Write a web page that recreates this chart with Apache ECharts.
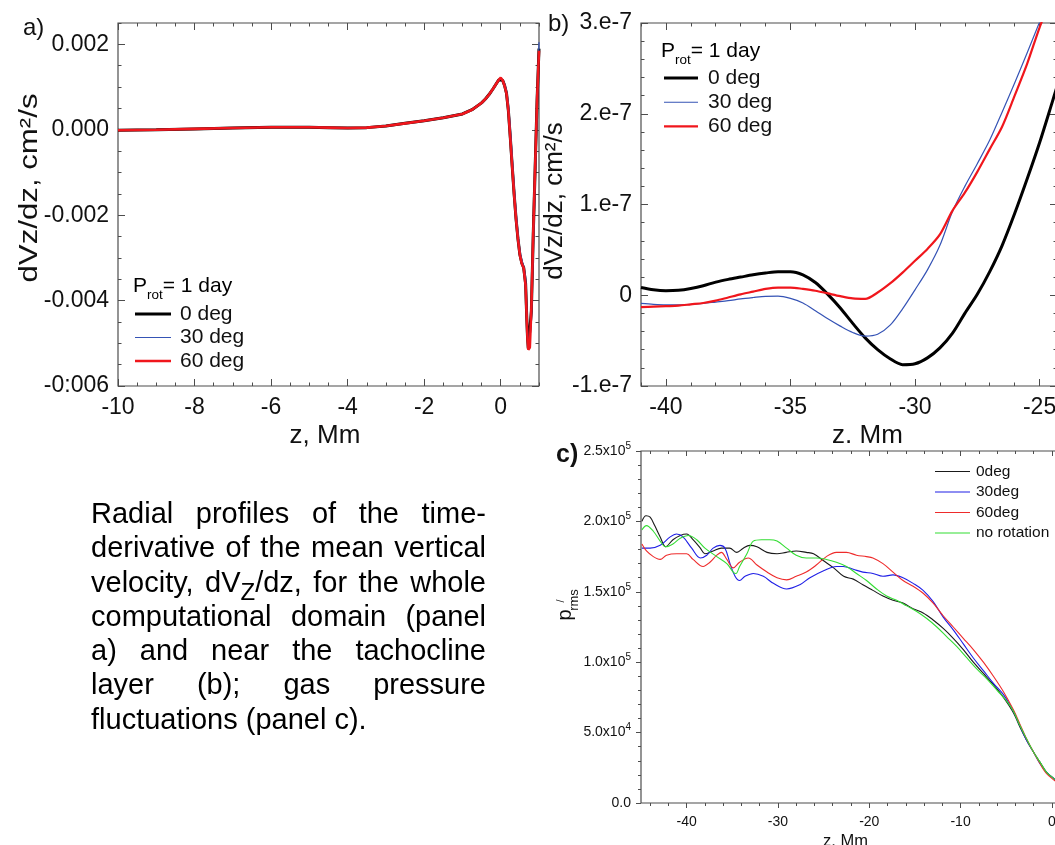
<!DOCTYPE html>
<html>
<head>
<meta charset="utf-8">
<script src="https://cdn.jsdelivr.net/npm/echarts@6/dist/echarts.min.js"></script>
<style>
  html, body { margin: 0; padding: 0; background: #fff; }
  #chart { width: 1055px; height: 845px; }
</style>
</head>
<body>
<div id="chart"></div>
<script>
// ---------- Panel a: dVz/dz over the whole computational domain ----------
const zA = [-10, -9, -8, -7, -6, -5, -4.5, -4, -3.5, -3, -2.5, -2, -1.5, -1, -0.75, -0.5, -0.4, -0.3, -0.2, -0.1, -0.05,
  0, 0.05, 0.1, 0.15, 0.2, 0.25, 0.3, 0.35, 0.4, 0.45, 0.5, 0.55, 0.6, 0.62, 0.65, 0.68, 0.7, 0.72, 0.74, 0.76, 0.8, 0.85, 0.9, 0.95, 1.0];
const dvA0 = [-0.01e-3, 0.0, 0.02e-3, 0.04e-3, 0.06e-3, 0.06e-3, 0.05e-3, 0.04e-3, 0.05e-3, 0.09e-3, 0.15e-3, 0.21e-3, 0.28e-3, 0.37e-3, 0.47e-3, 0.63e-3, 0.72e-3, 0.83e-3, 0.96e-3, 1.10e-3, 1.17e-3,
  1.21e-3, 1.16e-3, 1.04e-3, 0.86e-3, 0.45e-3, -0.18e-3, -0.85e-3, -1.50e-3, -2.08e-3, -2.55e-3, -2.92e-3, -3.12e-3, -3.23e-3, -3.26e-3, -3.60e-3, -4.40e-3, -4.85e-3, -5.12e-3, -5.15e-3, -5.10e-3, -4.25e-3, -2.45e-3, -0.88e-3, 0.69e-3, 1.90e-3];
const dvA30 = [-0.01e-3, 0.0, 0.02e-3, 0.04e-3, 0.06e-3, 0.06e-3, 0.05e-3, 0.04e-3, 0.05e-3, 0.09e-3, 0.15e-3, 0.21e-3, 0.28e-3, 0.37e-3, 0.47e-3, 0.62e-3, 0.71e-3, 0.82e-3, 0.95e-3, 1.09e-3, 1.16e-3,
  1.21e-3, 1.18e-3, 1.08e-3, 0.92e-3, 0.60e-3, 0.05e-3, -0.62e-3, -1.30e-3, -1.90e-3, -2.40e-3, -2.82e-3, -3.05e-3, -3.20e-3, -3.24e-3, -3.45e-3, -4.20e-3, -4.70e-3, -5.00e-3, -5.12e-3, -5.12e-3, -4.50e-3, -2.80e-3, -1.20e-3, 0.40e-3, 2.05e-3];
const dvA60 = [-0.01e-3, 0.0, 0.02e-3, 0.04e-3, 0.06e-3, 0.06e-3, 0.05e-3, 0.04e-3, 0.05e-3, 0.09e-3, 0.15e-3, 0.21e-3, 0.28e-3, 0.37e-3, 0.47e-3, 0.63e-3, 0.72e-3, 0.83e-3, 0.96e-3, 1.10e-3, 1.17e-3,
  1.22e-3, 1.16e-3, 1.03e-3, 0.85e-3, 0.44e-3, -0.20e-3, -0.87e-3, -1.52e-3, -2.10e-3, -2.56e-3, -2.93e-3, -3.13e-3, -3.24e-3, -3.27e-3, -3.65e-3, -4.45e-3, -4.90e-3, -5.15e-3, -5.18e-3, -5.10e-3, -4.20e-3, -2.40e-3, -0.85e-3, 0.72e-3, 1.85e-3];
const aTicksX = [-10, -8, -6, -4, -2, 0];
const aLabelsX = ['-10', '-8', '-6', '-4', '-2', '0'];
const aTicksY = [-0.006, -0.004, -0.002, 0, 0.002];
const aLabelsY = ['-0:006', '-0.004', '-0.002', '0.000', '0.002'];

// ---------- Panel b: dVz/dz near the tachocline ----------
const zB = [-41, -40.5, -40, -39.5, -39, -38.5, -38, -37.5, -37, -36.5, -36, -35.5, -35, -34.5, -34, -33.5, -33, -32.5,
  -32, -31.5, -31, -30.5, -30, -29.5, -29, -28.5, -28, -27.5, -27, -26.5, -26, -25.5, -25, -24.5, -24.3];
const dvB0 = [0.085e-7, 0.06e-7, 0.05e-7, 0.055e-7, 0.075e-7, 0.105e-7, 0.145e-7, 0.175e-7, 0.20e-7, 0.225e-7, 0.245e-7, 0.26e-7, 0.26e-7, 0.225e-7, 0.14e-7, 0.01e-7, -0.14e-7, -0.31e-7,
  -0.47e-7, -0.60e-7, -0.70e-7, -0.765e-7, -0.755e-7, -0.69e-7, -0.58e-7, -0.42e-7, -0.20e-7, 0.01e-7, 0.26e-7, 0.55e-7, 0.90e-7, 1.28e-7, 1.68e-7, 2.12e-7, 2.30e-7];
const dvB30 = [-0.09e-7, -0.10e-7, -0.105e-7, -0.105e-7, -0.10e-7, -0.09e-7, -0.075e-7, -0.06e-7, -0.04e-7, -0.025e-7, -0.012e-7, -0.01e-7, -0.035e-7, -0.085e-7, -0.17e-7, -0.26e-7, -0.34e-7, -0.41e-7,
  -0.45e-7, -0.43e-7, -0.33e-7, -0.15e-7, 0.06e-7, 0.28e-7, 0.55e-7, 0.92e-7, 1.20e-7, 1.45e-7, 1.71e-7, 2.02e-7, 2.34e-7, 2.67e-7, 3.01e-7, 3.35e-7, 3.48e-7];
const dvB60 = [-0.13e-7, -0.125e-7, -0.12e-7, -0.115e-7, -0.10e-7, -0.085e-7, -0.06e-7, -0.025e-7, 0.01e-7, 0.04e-7, 0.07e-7, 0.085e-7, 0.085e-7, 0.07e-7, 0.05e-7, 0.02e-7, -0.01e-7, -0.035e-7,
  -0.04e-7, 0.03e-7, 0.13e-7, 0.25e-7, 0.38e-7, 0.51e-7, 0.67e-7, 0.93e-7, 1.13e-7, 1.36e-7, 1.61e-7, 1.86e-7, 2.20e-7, 2.55e-7, 2.95e-7, 3.30e-7, 3.45e-7];
const bTicksX = [-40, -35, -30, -25];
const bLabelsX = ['-40', '-35', '-30', '-25'];
const bTicksY = [-1e-7, 0, 1e-7, 2e-7, 3e-7];
const bLabelsY = ['-1.e-7', '0', '1.e-7', '2.e-7', '3.e-7'];

// ---------- Panel c: rms gas pressure fluctuations ----------
const zC0 = [-44.9, -44.45, -44.0, -43.5, -42.9, -42.3, -41.5, -40.7, -40.0, -39.3, -38.5, -38.0, -37.1, -36.2, -35.3, -34.5, -33.8, -33.1, -32.3, -31.2, -30.1, -29.1, -28.0, -26.9, -26.1, -25.0,
  -23.9, -22.8, -21.75, -20.7, -19.6, -18.5, -17.4, -16.3, -15.2, -14.1, -13.0, -11.9, -10.8, -9.7, -8.6, -7.5, -6.4, -5.3, -4.2, -3.5, -2.8, -2.0, -1.3, -0.6, 0.3, 1.0];
const prmsC0 = [2.00e5, 2.04e5, 2.03e5, 1.97e5, 1.89e5, 1.82e5, 1.87e5, 1.90e5, 1.91e5, 1.87e5, 1.81e5, 1.77e5, 1.79e5, 1.81e5, 1.81e5, 1.78e5, 1.81e5, 1.83e5, 1.82e5, 1.78e5, 1.77e5, 1.78e5, 1.79e5, 1.78e5, 1.77e5, 1.72e5,
  1.67e5, 1.61e5, 1.59e5, 1.55e5, 1.51e5, 1.47e5, 1.44e5, 1.42e5, 1.38e5, 1.35e5, 1.30e5, 1.24e5, 1.17e5, 1.09e5, 1.00e5, 0.92e5, 0.84e5, 0.75e5, 0.64e5, 0.54e5, 0.45e5, 0.36e5, 0.29e5, 0.22e5, 0.17e5, 0.14e5];
const zC30 = [-44.9, -44.0, -42.9, -41.8, -41.1, -40.4, -39.45, -38.5, -37.8, -37.1, -36.35, -35.8, -35.25, -34.7, -34.2, -33.6, -32.7, -31.6, -30.5, -29.05, -27.6, -26.5, -25.0, -23.6, -22.85,
  -21.75, -20.7, -19.6, -18.5, -17.4, -16.3, -15.2, -14.1, -13.0, -11.9, -10.8, -9.7, -8.6, -7.5, -6.4, -5.3, -4.2, -3.5, -2.8, -2.0, -1.3, -0.6, 0.3, 1.0];
const prmsC30 = [1.81e5, 1.81e5, 1.83e5, 1.89e5, 1.91e5, 1.89e5, 1.81e5, 1.74e5, 1.76e5, 1.81e5, 1.83e5, 1.81e5, 1.70e5, 1.61e5, 1.58e5, 1.61e5, 1.63e5, 1.61e5, 1.56e5, 1.52e5, 1.55e5, 1.60e5, 1.65e5, 1.68e5, 1.68e5,
  1.66e5, 1.64e5, 1.63e5, 1.61e5, 1.62e5, 1.60e5, 1.56e5, 1.51e5, 1.43e5, 1.32e5, 1.23e5, 1.13e5, 1.03e5, 0.94e5, 0.85e5, 0.77e5, 0.65e5, 0.55e5, 0.45e5, 0.36e5, 0.28e5, 0.22e5, 0.17e5, 0.14e5];
const zC60 = [-44.9, -44.4, -43.65, -42.9, -42.2, -41.1, -40.0, -39.3, -38.2, -37.45, -36.7, -36.2, -35.6, -34.9, -34.2, -33.25, -32.3, -31.2, -30.1, -29.05, -28.0, -26.9, -25.8, -24.7, -23.6,
  -22.5, -21.4, -20.3, -19.6, -18.5, -17.4, -16.3, -15.2, -14.1, -13.0, -11.9, -10.8, -9.7, -8.6, -7.5, -6.4, -5.3, -4.2, -3.5, -2.8, -2.0, -1.3, -0.6, 0.3, 1.0];
const prmsC60 = [1.84e5, 1.79e5, 1.75e5, 1.73e5, 1.76e5, 1.77e5, 1.77e5, 1.73e5, 1.68e5, 1.71e5, 1.76e5, 1.78e5, 1.73e5, 1.67e5, 1.71e5, 1.74e5, 1.69e5, 1.64e5, 1.60e5, 1.585e5, 1.61e5, 1.64e5, 1.69e5, 1.75e5, 1.78e5,
  1.78e5, 1.76e5, 1.75e5, 1.74e5, 1.70e5, 1.64e5, 1.58e5, 1.54e5, 1.49e5, 1.42e5, 1.33e5, 1.25e5, 1.17e5, 1.09e5, 1.00e5, 0.90e5, 0.79e5, 0.66e5, 0.56e5, 0.46e5, 0.36e5, 0.28e5, 0.21e5, 0.16e5, 0.13e5];
const zCNo = [-44.9, -44.4, -43.65, -42.9, -42.3, -41.5, -40.7, -39.8, -38.9, -38.0, -36.7, -35.6, -34.9, -34.6, -34.2, -33.4, -32.7, -31.8, -30.9, -30.1, -29.05, -28.0, -26.9, -25.8, -24.7,
  -23.6, -22.5, -21.4, -20.3, -19.2, -18.1, -17.0, -15.9, -14.8, -13.7, -12.6, -11.5, -10.4, -9.3, -8.2, -7.1, -6.0, -4.9, -4.2, -3.5, -2.8, -2.0, -1.3, -0.6, 0.3, 1.0];
const prmsCNo = [1.94e5, 1.97e5, 1.93e5, 1.86e5, 1.82e5, 1.84e5, 1.88e5, 1.90e5, 1.87e5, 1.81e5, 1.75e5, 1.70e5, 1.64e5, 1.63e5, 1.68e5, 1.77e5, 1.86e5, 1.87e5, 1.87e5, 1.86e5, 1.81e5, 1.76e5, 1.74e5, 1.74e5, 1.73e5,
  1.71e5, 1.68e5, 1.63e5, 1.58e5, 1.52e5, 1.47e5, 1.44e5, 1.40e5, 1.36e5, 1.31e5, 1.25e5, 1.18e5, 1.11e5, 1.03e5, 0.95e5, 0.88e5, 0.80e5, 0.72e5, 0.65e5, 0.55e5, 0.46e5, 0.36e5, 0.29e5, 0.22e5, 0.17e5, 0.14e5];
const cTicksX = [-40, -30, -20, -10, 0];
const cLabelsX = ['-40', '-30', '-20', '-10', '0'];
const cTicksY = [0, 5e4, 1e5, 1.5e5, 2e5, 2.5e5];
const cLabelsY = ['{m|0.0}', '{m|5.0x10}{e|4}', '{m|1.0x10}{e|5}', '{m|1.5x10}{e|5}', '{m|2.0x10}{e|5}', '{m|2.5x10}{e|5}'];

// Caption beside panel c
const caption = [
  'Radial profiles of the time-',
  'derivative of the mean vertical',
  'velocity, dV_{Z}/dz, for the whole',
  'computational domain (panel',
  'a) and near the tachocline',
  'layer (b); gas pressure',
  'fluctuations (panel c).'
];

// ---------- helpers ----------
const FONT = '"Liberation Sans", Arial, Helvetica, sans-serif';
const FRAME = '#4d4d4d';
const TEXT = '#111';

function steps(from, to, step) {
  const out = [];
  const n = Math.round((to - from) / step);
  for (let i = 0; i <= n; i++) out.push(+(from + i * step).toPrecision(12));
  return out;
}
function labelLookup(values, labels) {
  return function (v) {
    let k = 0;
    for (let i = 1; i < values.length; i++) {
      if (Math.abs(values[i] - v) < Math.abs(values[k] - v)) k = i;
    }
    return labels[k];
  };
}
function pairs(xs, ys) { return xs.map((x, i) => [x, ys[i]]); }

const xAxes = [];
const yAxes = [];

// Builds the boxed axes of one panel: labelled major ticks plus separate minor tick axes on all four sides.
function buildAxes(p) {
  const ix = xAxes.length, iy = yAxes.length;
  const tickLine = { color: FRAME, width: 1 };
  const base = { type: 'value', gridIndex: p.grid, splitLine: { show: false }, axisLine: { show: false, onZero: false }, silent: true };
  const side = (pos, ax, inside, len, ticks, labelled) => {
    const a = Object.assign({}, base, {
      position: pos, min: ax.min, max: ax.max,
      axisTick: { show: true, inside: inside, length: len, customValues: ticks, lineStyle: tickLine },
      axisLabel: { show: false }
    });
    if (labelled) {
      a.axisLabel = Object.assign({ show: true, customValues: ax.ticks, formatter: labelLookup(ax.ticks, ax.labels),
        color: TEXT, fontFamily: FONT }, ax.label);
      a.name = ax.name;
      a.nameLocation = 'middle';
      a.nameGap = ax.nameGap;
      a.nameTextStyle = Object.assign({ color: TEXT, fontFamily: FONT }, ax.nameStyle);
    }
    return a;
  };
  xAxes.push(side('bottom', p.x, p.outInside, p.majorLen, p.x.ticks, true));
  xAxes.push(side('bottom', p.x, p.outInside, p.minorLen, p.x.minor, false));
  xAxes.push(side('top', p.x, true, p.majorLen, p.x.ticks, false));
  xAxes.push(side('top', p.x, true, p.minorLen, p.x.minor, false));
  yAxes.push(side('left', p.y, p.outInside, p.majorLen, p.y.ticks, true));
  yAxes.push(side('left', p.y, p.outInside, p.minorLen, p.y.minor, false));
  yAxes.push(side('right', p.y, true, p.majorLen, p.y.ticks, false));
  yAxes.push(side('right', p.y, true, p.minorLen, p.y.minor, false));
  return { x: ix, y: iy };
}

const axA = buildAxes({
  grid: 0, outInside: true, majorLen: 7, minorLen: 3.5,
  x: { min: -10, max: 1, ticks: aTicksX, labels: aLabelsX, minor: steps(-10, 1, 0.5),
       label: { fontSize: 23, margin: 10 }, name: 'z, Mm', nameGap: 37, nameStyle: { fontSize: 26, padding: [0, 7, 0, 0] } },
  y: { min: -0.006, max: 0.0025, ticks: aTicksY, labels: aLabelsY, minor: steps(-0.006, 0.0025, 0.0005),
       label: { fontSize: 23, margin: 9 }, name: '', nameGap: 0, nameStyle: {} }
});
const axB = buildAxes({
  grid: 1, outInside: true, majorLen: 7, minorLen: 3.5,
  x: { min: -41, max: -24.3, ticks: bTicksX, labels: bLabelsX, minor: steps(-41, -25, 1),
       label: { fontSize: 23, margin: 10 }, name: 'z. Mm', nameGap: 37, nameStyle: { fontSize: 26, padding: [0, 0, 0, 37] } },
  y: { min: -1e-7, max: 3e-7, ticks: bTicksY, labels: bLabelsY, minor: steps(-10, 30, 2).map(v => v * 1e-8),
       label: { fontSize: 23, margin: 9 }, name: 'dVz/dz, cm²/s', nameGap: 66, nameStyle: { fontSize: 26, padding: [0, 0, 0, 7] } }
});
const axC = buildAxes({
  grid: 2, outInside: false, majorLen: 5, minorLen: 3,
  x: { min: -45, max: 1, ticks: cTicksX, labels: cLabelsX, minor: steps(-44, 0, 2),
       label: { fontSize: 14, margin: 12 }, name: 'z, Mm', nameGap: 30, nameStyle: { fontSize: 16.5, padding: [0, 11, 0, 0] } },
  y: { min: 0, max: 2.5e5, ticks: cTicksY, labels: cLabelsY, minor: steps(0, 25, 1).map(v => v * 1e4),
       label: { margin: 10, rich: {
         m: { fontSize: 14, fontFamily: FONT, color: TEXT, verticalAlign: 'middle' },
         e: { fontSize: 10, fontFamily: FONT, color: TEXT, verticalAlign: 'middle', padding: [0, 0, 10, 0] } } },
       name: '', nameGap: 0, nameStyle: {} }
});

function line(name, xs, ys, ax, color, width, smooth) {
  return {
    type: 'line', name: name, xAxisIndex: ax.x, yAxisIndex: ax.y, data: pairs(xs, ys),
    symbol: 'none', showSymbol: false, smooth: smooth, clip: true,
    lineStyle: { color: color, width: width }, itemStyle: { color: color },
    emphasis: { disabled: true }, z: 3
  };
}

const BLACK = '#000000', BLUE_AB = '#3553b5', RED_AB = '#f0161c';
const series = [
  line('0 deg', zA, dvA0, axA, BLACK, 3, false),
  line('30 deg', zA, dvA30, axA, BLUE_AB, 1.3, false),
  line('60 deg', zA, dvA60, axA, RED_AB, 2.6, false),
  line('0 deg', zB, dvB0, axB, BLACK, 3, 0.3),
  line('30 deg', zB, dvB30, axB, BLUE_AB, 1.2, 0.3),
  line('60 deg', zB, dvB60, axB, RED_AB, 2.2, 0.3),
  line('0deg', zC0, prmsC0, axC, '#1a1a1a', 1.1, 0.35),
  line('30deg', zC30, prmsC30, axC, '#1f1fe6', 1.1, 0.35),
  line('60deg', zC60, prmsC60, axC, '#ee2b2b', 1.1, 0.35),
  line('no rotation', zCNo, prmsCNo, axC, '#33dd33', 1.1, 0.35)
];

// Legend swatches: flat bars whose height is the line thickness
const bar = h => 'path://M0,0L36,0L36,' + h + 'L0,' + h + 'Z';
const legendBase = {
  orient: 'vertical', selectedMode: false, padding: 0, itemStyle: { borderWidth: 0 }, symbolKeepAspect: true
};
const legends = [
  Object.assign({}, legendBase, {
    left: 135, top: 303, itemWidth: 36, itemHeight: 14, itemGap: 1.5,
    textStyle: { fontSize: 21, lineHeight: 22, color: TEXT, fontFamily: FONT, padding: [0, 0, 0, 4] },
    data: [{ name: '0 deg', icon: bar(3) }, { name: '30 deg', icon: bar(1.2) }, { name: '60 deg', icon: bar(2.6) }]
  }),
  Object.assign({}, legendBase, {
    left: 664, top: 67, itemWidth: 34, itemHeight: 14, itemGap: 2.2,
    textStyle: { fontSize: 21, lineHeight: 22, color: TEXT, fontFamily: FONT, padding: [0, 0, 0, 5] },
    data: [{ name: '0 deg', icon: bar(3) }, { name: '30 deg', icon: bar(1.2) }, { name: '60 deg', icon: bar(2.2) }]
  }),
  Object.assign({}, legendBase, {
    left: 935, top: 463.5, itemWidth: 35, itemHeight: 10, itemGap: 4.5,
    textStyle: { fontSize: 15.5, lineHeight: 16, color: TEXT, fontFamily: FONT, padding: [0, 0, 0, 1] },
    data: [{ name: '0deg', icon: bar(1.2) }, { name: '30deg', icon: bar(1.2) }, { name: '60deg', icon: bar(1.2) }, { name: 'no rotation', icon: bar(1.2) }]
  })
];

// ---------- free text: panel letters, legend titles, axis names, caption ----------
const graphics = [];
function txt(x, y, text, font, extra, align) {
  graphics.push(Object.assign({ type: 'text', x: x, y: y, silent: true,
    style: { text: text, font: font, fill: TEXT, align: align || 'left', verticalAlign: 'middle' } }, extra || {}));
}
txt(23, 28, 'a)', '24px ' + FONT);
txt(548, 24, 'b)', '24px ' + FONT);
txt(556, 455, 'c)', 'bold 25px ' + FONT);

// panel a vertical axis title, drawn taller than wide like the panel's other lettering
txt(30, 188, 'dVz/dz, cm²/s', '26px ' + FONT, { rotation: Math.PI / 2, scaleX: 1.2 }, 'center');

const protRich = {
  p: { fontSize: 21, fontFamily: FONT, color: TEXT, verticalAlign: 'middle' },
  s: { fontSize: 13.5, fontFamily: FONT, color: TEXT, verticalAlign: 'middle', padding: [18, 0, 0, 0] }
};
graphics.push({ type: 'text', x: 133, y: 286, silent: true,
  style: { text: '{p|P}{s|rot}{p|= 1 day}', rich: protRich, align: 'left', verticalAlign: 'middle' } });
graphics.push({ type: 'text', x: 661, y: 51, silent: true,
  style: { text: '{p|P}{s|rot}{p|= 1 day}', rich: protRich, align: 'left', verticalAlign: 'middle' } });

// p'_rms written bottom-to-top
const rot = { rotation: Math.PI / 2 };
txt(565, 615, 'p', '20px ' + FONT, rot, 'center');
txt(561, 601, '/', '11px ' + FONT, rot, 'center');
txt(574, 600, 'rms', '13px ' + FONT, rot, 'center');

// Justified caption: each word placed on its own so lines fill the column width
const CAP_FS = 29, CAP_SUB_FS = 24, CAP_LEFT = 91, CAP_RIGHT = 486, CAP_BASE0 = 525, CAP_STEP = 34.3;
const measureCtx = document.createElement('canvas').getContext('2d');
function textWidth(t, size) { measureCtx.font = size + 'px ' + FONT; return measureCtx.measureText(t).width; }
function wordParts(w) {
  const parts = []; const re = /_\{([^}]*)\}/g; let last = 0, m;
  while ((m = re.exec(w))) {
    if (m.index > last) parts.push({ t: w.slice(last, m.index), sub: false });
    parts.push({ t: m[1], sub: true });
    last = re.lastIndex;
  }
  if (last < w.length) parts.push({ t: w.slice(last), sub: false });
  return parts;
}
const capRich = {
  n: { fontSize: CAP_FS, fontFamily: FONT, color: TEXT, verticalAlign: 'middle' },
  s: { fontSize: CAP_SUB_FS, fontFamily: FONT, color: TEXT, verticalAlign: 'middle', padding: [20, 0, 0, 0] }
};
caption.forEach((lineText, li) => {
  const words = lineText.split(' ').map(w => {
    const parts = wordParts(w);
    return {
      rich: parts.map(p => '{' + (p.sub ? 's' : 'n') + '|' + p.t + '}').join(''),
      width: parts.reduce((s, p) => s + textWidth(p.t, p.sub ? CAP_SUB_FS : CAP_FS), 0)
    };
  });
  const total = words.reduce((s, w) => s + w.width, 0);
  const isLast = li === caption.length - 1;
  const gap = isLast || words.length < 2 ? textWidth(' ', CAP_FS) : (CAP_RIGHT - CAP_LEFT - total) / (words.length - 1);
  const yMid = CAP_BASE0 + li * CAP_STEP - 0.3465 * CAP_FS;
  let x = CAP_LEFT;
  words.forEach(w => {
    graphics.push({ type: 'text', x: x, y: yMid, silent: true,
      style: { text: w.rich, rich: capRich, align: 'left', verticalAlign: 'middle' } });
    x += w.width + gap;
  });
});

// ---------- chart ----------
const gridBox = { show: true, borderColor: FRAME, borderWidth: 1.2, backgroundColor: 'rgba(0,0,0,0)', containLabel: false, outerBoundsMode: 'none' };
const chart = echarts.init(document.getElementById('chart'), null, { renderer: 'canvas', width: 1055, height: 845 });
chart.setOption({
  backgroundColor: '#ffffff',
  animation: false,
  textStyle: { fontFamily: FONT },
  grid: [
    Object.assign({ left: 118, top: 23, width: 421, height: 363 }, gridBox),
    Object.assign({ left: 641, top: 23, width: 416, height: 363 }, gridBox),
    Object.assign({ left: 641, top: 451, width: 420, height: 352 }, gridBox)
  ],
  xAxis: xAxes,
  yAxis: yAxes,
  legend: legends,
  series: series,
  graphic: { elements: graphics }
});
</script>
</body>
</html>
